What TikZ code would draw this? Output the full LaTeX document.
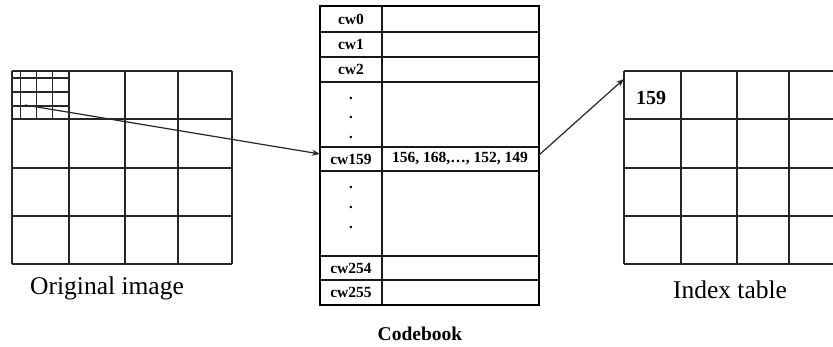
\documentclass[tikz,border=0pt]{standalone}
\usepackage{fontspec}
\setmainfont{Liberation Serif}
\usetikzlibrary{arrows.meta}
\begin{document}
\begin{tikzpicture}[x=1pt,y=-1pt,
  gridline/.style={line width=1.6pt, draw=black!85},
  fineline/.style={line width=1.3pt, draw=black!85},
  outerline/.style={line width=2.8pt, draw=black},
  innerline/.style={line width=1.6pt, draw=black!90},
  cell/.style={inner sep=0pt, font=\fontsize{15.5}{18}\selectfont\bfseries},
  dotcell/.style={inner sep=0pt, font=\fontsize{15}{18}\selectfont\bfseries},
  caption/.style={inner sep=0pt, font=\fontsize{25.5}{30}\selectfont},
  link/.style={line width=1.2pt, draw=black!85, -{Stealth[length=8pt,width=6pt]}}]
\useasboundingbox (0,0) rectangle (833,347);
\fill[white] (0,0) rectangle (833,347);
\begin{scope}
\clip (0,0) rectangle (833,347);
% original image grid
\foreach \x in {12,69,125,178,232} \draw[gridline] (\x,71) -- (\x,264);
\foreach \y in {71,119,168,216,264} \draw[gridline] (12,\y) -- (232,\y);
\foreach \x in {20.7,36.7,52.7} \draw[fineline] (\x,71) -- (\x,119);
\foreach \y in {78,92,106} \draw[fineline] (12,\y) -- (69,\y);
% index table grid
\foreach \x in {624,681,737,789} \draw[gridline] (\x,71) -- (\x,264);
\foreach \y in {71,119,168,216,264} \draw[gridline] (624,\y) -- (845,\y);
\end{scope}
% codebook
\draw[innerline] (382,6) -- (382,305);
\foreach \y in {32,57,82,147,171,256,280} \draw[innerline] (320,\y) -- (539,\y);
\draw[outerline] (320,6) rectangle (539,305);
\node[cell] (cw0) at (351,19) {cw0};
\node[cell] (cw1) at (351,44.5) {cw1};
\node[cell] (cw2) at (351,69.5) {cw2};
\node[dotcell] (d1) at (351,98) {.};
\node[dotcell] (d2) at (351,117) {.};
\node[dotcell] (d3) at (351,137) {.};
\node[cell] (cw159) at (351,159) {cw159};
\node[cell] (vec) at (460,159) {156, 168,…, 152, 149};
\node[dotcell] (d4) at (351,187) {.};
\node[dotcell] (d5) at (351,207) {.};
\node[dotcell] (d6) at (351,227) {.};
\node[cell] (cw254) at (351,268) {cw254};
\node[cell] (cw255) at (351,292.5) {cw255};
\node[inner sep=0pt, font=\fontsize{19.5}{23}\selectfont\bfseries] (cbook) at (420,334) {Codebook};
% captions
\node[caption] (orig) at (107,288) {Original image};
\node[caption] (itab) at (730,290) {Index table};
\node[inner sep=0pt, font=\fontsize{20}{24}\selectfont\bfseries] (idx) at (651,98) {159};
% connectors
\coordinate (src) at (25,105);
\coordinate (cbL) at (320,154);
\coordinate (cbR) at (539,155);
\coordinate (itTL) at (624,79);
\draw[link] (src) -- (cbL);
\draw[link] (cbR) -- (itTL);
\end{tikzpicture}
\end{document}
